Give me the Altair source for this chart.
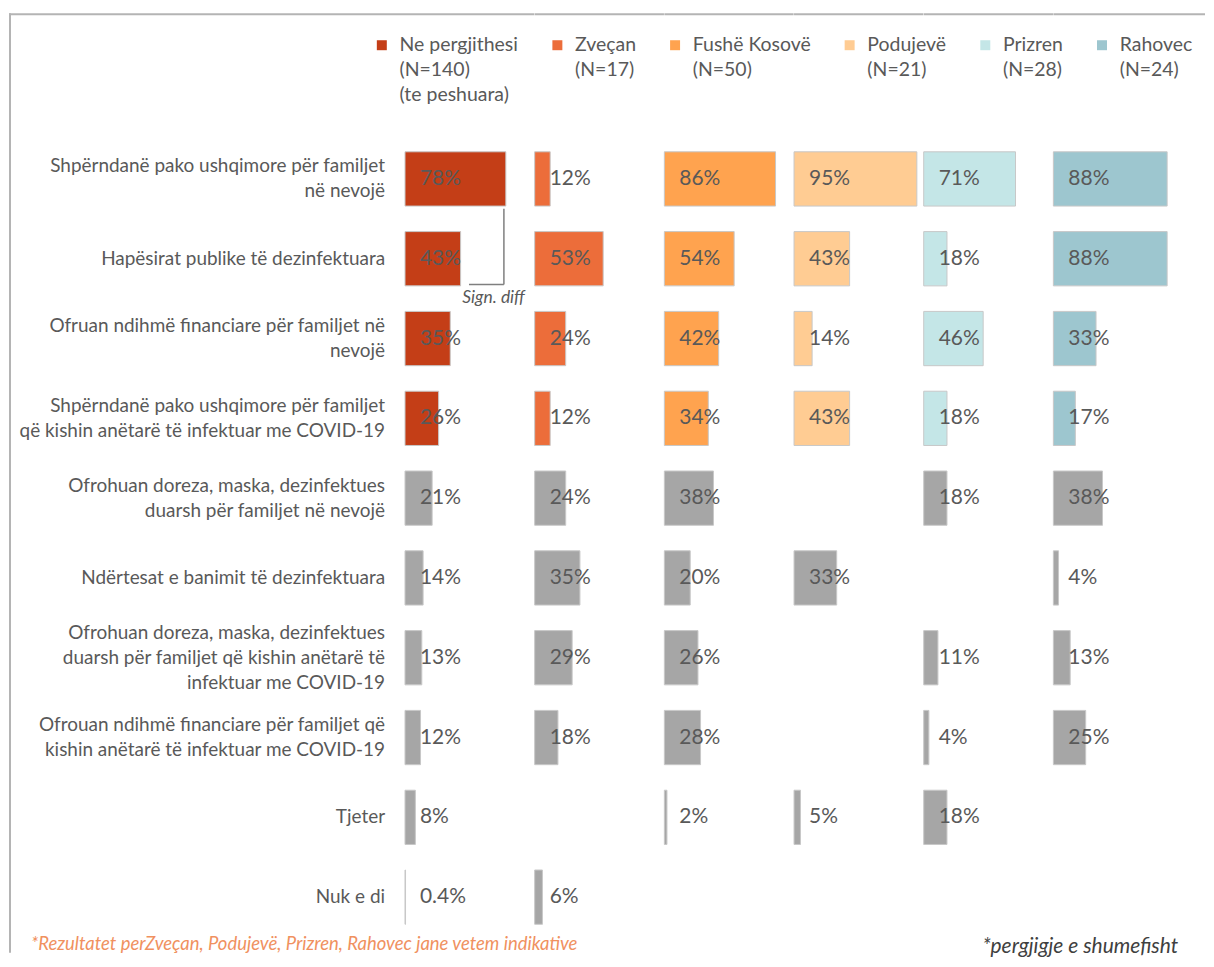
import altair as alt
import pandas as pd

FONT = "Lato"
TXT = "#595959"

groups = ["Ne pergjithesi", "Zveçan", "Fushë Kosovë", "Podujevë", "Prizren", "Rahovec"]
group_n = ["(N=140)|(te peshuara)", "(N=17)| ", "(N=50)| ", "(N=21)| ", "(N=28)| ", "(N=24)| "]
group_colors = ["#C43E17", "#EC6D3A", "#FFA34F", "#FFCC93", "#C4E6E7", "#9DC6CF"]
other_color = "#A6A6A6"

categories = [
    "Shpërndanë pako ushqimore për familjet|në nevojë",
    "Hapësirat publike të dezinfektuara",
    "Ofruan ndihmë financiare për familjet në|nevojë",
    "Shpërndanë pako ushqimore për familjet|që kishin anëtarë të infektuar me COVID-19",
    "Ofrohuan doreza, maska, dezinfektues|duarsh për familjet në nevojë",
    "Ndërtesat e banimit të dezinfektuara",
    "Ofrohuan doreza, maska, dezinfektues|duarsh për familjet që kishin anëtarë të|infektuar me COVID-19",
    "Ofrouan ndihmë financiare për familjet që|kishin anëtarë të infektuar me COVID-19",
    "Tjeter",
    "Nuk e di",
]
highlight_rows = 4  # first rows drawn in the group colour, the rest in grey

v_ne = [78, 43, 35, 26, 21, 14, 13, 12, 8, 0.4]
v_zv = [12, 53, 24, 12, 24, 35, 29, 18, None, 6]
v_fk = [86, 54, 42, 34, 38, 20, 26, 28, 2, None]
v_po = [95, 43, 14, 43, None, 33, None, None, 5, None]
v_pr = [71, 18, 46, 18, 18, None, 11, 4, 18, None]
v_ra = [88, 88, 33, 17, 38, 4, 13, 25, None, None]
values = [v_ne, v_zv, v_fk, v_po, v_pr, v_ra]

note_left = "*Rezultatet perZveçan, Podujevë, Prizren, Rahovec jane vetem indikative"
note_right = "*pergjigje e shumefisht"
sign_note = "Sign. diff"

legend_keys = [g + "|" + n for g, n in zip(groups, group_n)]

rows = []
for gi, g in enumerate(groups):
    for ci, c in enumerate(categories):
        v = values[gi][ci]
        if v is None:
            continue
        rows.append({
            "group": g,
            "category": c,
            "value": v,
            "label": f"{v:g}%",
            "colorKey": legend_keys[gi] if ci < highlight_rows else "other",
        })
df = pd.DataFrame(rows)

H = 920
PW = 129.6
LH = 25
STEP = 80
P_INNER = 0.32
yscale = alt.Scale(domain=categories, paddingInner=P_INNER, paddingOuter=0.91, align=0.982)
xscale = alt.Scale(domain=[0, 100], nice=False, zero=True)
cscale = alt.Scale(domain=legend_keys + ["other"], range=group_colors + [other_color])

legend = alt.Legend(
    title=None, orient="none", legendX=364, legendY=26, direction="horizontal",
    values=legend_keys, labelExpr="split(datum.label, '|')",
    symbolType="square", symbolSize=100, symbolStrokeWidth=0,
    labelFont=FONT, labelFontSize=19.5, labelColor=TXT, labelBaseline="middle",
    columnPadding=29, labelOffset=8, padding=0, labelLimit=300,
)

Y = alt.Y("category:N", sort=categories, scale=yscale, axis=None)
frame = alt.Chart(pd.DataFrame({"a": [0]}))


def top_segment(w):
    return frame.mark_rule(color="#B4B4B4", strokeWidth=2).encode(
        x=alt.value(0), x2=alt.value(w), y=alt.value(5))


def panel(i):
    g = groups[i]
    base = alt.Chart(df).transform_filter(alt.datum.group == g)
    bars = base.mark_bar(stroke="#C8C8C8", strokeWidth=1).encode(
        y=Y,
        x=alt.X("value:Q", scale=xscale, axis=None),
        color=alt.Color("colorKey:N", scale=cscale, legend=legend if i == 0 else None),
    )
    text = base.mark_text(align="left", baseline="middle", font=FONT, fontSize=21, color=TXT).encode(
        y=Y, x=alt.value(15), text="label:N"
    )
    layers = [bars, text, top_segment(PW if i < 5 else 152)]
    if i == 0:
        vr = frame.mark_rule(color="#7F7F7F", strokeWidth=1.5).encode(
            x=alt.datum(76.5), y=alt.value(200), y2=alt.value(276))
        hr = frame.mark_rule(color="#7F7F7F", strokeWidth=1.5).encode(
            x=alt.datum(49.5), x2=alt.datum(76.5), y=alt.value(276))
        st = frame.mark_text(font=FONT, fontSize=17.5, fontStyle="italic", color=TXT,
                             align="center", baseline="middle").encode(
            x=alt.datum(68.5), y=alt.value(290), text=alt.value(sign_note))
        layers += [vr, hr, st]
    if i == 5:
        n2 = frame.mark_text(font=FONT, fontSize=21, fontStyle="italic", color="#404040",
                             align="right", baseline="middle").encode(
            x=alt.value(125), y=alt.value(940), text=alt.value(note_right))
        layers += [n2]
    return alt.layer(*layers).properties(width=PW, height=H)


lab_df = pd.DataFrame({"category": categories})
half_band = STEP * (1 - P_INNER) / 2
lab = alt.Chart(lab_df).transform_calculate(
    shift=f"{half_band} - (length(split(datum.category, '|')) - 1) * {LH / 2}"
).mark_text(
    align="right", baseline="middle", lineBreak="|", lineHeight=LH,
    font=FONT, fontSize=19, color=TXT,
).encode(y=Y, yOffset=alt.YOffset("shift:Q", scale=None), x=alt.value(377), text="category:N")

left_line = frame.mark_rule(color="#B4B4B4", strokeWidth=2).encode(
    x=alt.value(1), y=alt.value(4), y2=alt.value(946))
n1 = frame.mark_text(font=FONT, fontSize=18.5, fontStyle="italic", color="#F0915F",
                     align="left", baseline="middle").encode(
    x=alt.value(22), y=alt.value(937), text=alt.value(note_left))

label_panel = alt.layer(lab, top_segment(397), left_line, n1).properties(width=397, height=H)

chart = alt.hconcat(label_panel, *[panel(i) for i in range(6)], spacing=0, bounds="flush").resolve_scale(
    color="shared", y="shared"
).properties(padding=0, background="white").configure(
    style={"guide-label": {"lineHeight": LH}}
).configure_view(stroke=None)

chart.save("out.html", embed_options={"renderer": "svg", "actions": False})
